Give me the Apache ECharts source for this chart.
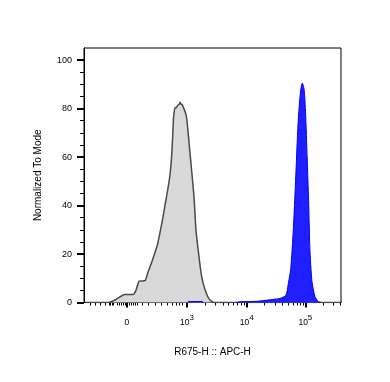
<!DOCTYPE html>
<html><head><meta charset="utf-8">
<script src="https://cdn.jsdelivr.net/npm/echarts@6/dist/echarts.min.js"></script>
<style>html,body{margin:0;padding:0;background:#fff}#c{width:390px;height:382px}</style>
</head><body><div id="c"></div>
<script>
// x values are display channels (0-1024) on a logicle-like scale
var grayChannel = [8, 24, 64, 97, 128, 163, 196, 207, 220, 243, 255, 270, 292, 310, 321, 330, 336, 343, 349, 353, 356, 359, 363, 367, 373, 379, 383, 387, 391, 396, 402, 409, 414, 422, 438, 446, 455, 466, 475, 491, 502, 515, 542, 1020];
var grayCount   = [0, 0, 0, 0, 1.3, 3.3, 3.3, 5, 8.8, 9, 12.5, 16.7, 23.6, 32.6, 39, 44.4, 48, 53, 60, 68, 75, 78.5, 80.5, 80.3, 81.3, 81.8, 82.6, 81.7, 81.8, 80.4, 79, 76.2, 71, 62, 44, 30, 21.6, 12.5, 7.8, 2.9, 1, 0.1, 0, 0];
// null = no events (gap in the blue histogram)
var blueChannel = [412, 416, 470, 476, 540, 606, 622, 688, 741, 781, 805, 814, 824, 834, 843, 853, 863, 870, 877, 883, 889, 895, 900, 908, 920, 932, 944];
var blueCount   = [0, 0.4, 0.4, 0, null, 0, 0.3, 0.5, 1.1, 1.7, 3, 7.8, 14, 30, 50, 74, 87.5, 90.5, 88, 78, 60, 42, 22, 9, 2.5, 0.5, 0];
var majorTicks  = [171, 410, 648, 882];
var majorLabels = ['0', '10|3', '10|4', '10|5'];
var minorTicks  = [24, 44, 64, 84, 100, 106, 112, 118, 132, 140, 147, 155, 163, 179, 187, 195, 203, 211, 231, 255, 283, 307, 331, 351, 367, 379, 391,
                   482, 524, 553, 576, 595, 611, 625, 637,
                   720, 761, 791, 814, 833, 849, 863, 875,
                   952, 994, 1023];
var yTicks = [0, 20, 40, 60, 80, 100];

var font = 'Liberation Sans, Arial, sans-serif';
function pairs(xs, ys){ return xs.map(function(x,i){ return [x, ys[i]]; }); }

var chart = echarts.init(document.getElementById('c'), null, {renderer:'canvas'});
chart.setOption({
  animation: false,
  grid: {left: 84, right: 49, top: 48, bottom: 79.5, show: true, borderColor: '#000', borderWidth: 1, backgroundColor: 'transparent'},
  xAxis: [{
    type: 'value', min: 0, max: 1024, position: 'bottom',
    name: 'R675-H :: APC-H', nameLocation: 'middle', nameGap: 45,
    nameTextStyle: {fontFamily: font, fontSize: 10, color: '#000'},
    axisLine: {show: true, onZero: false, lineStyle: {color: '#000', width: 1}},
    axisTick: {show: true, customValues: majorTicks, length: 5, lineStyle: {color: '#000', width: 2}},
    axisLabel: {
      customValues: majorTicks, margin: 15, color: '#000', fontFamily: font,
      formatter: function(v){
        var i = majorTicks.indexOf(v);
        var s = i >= 0 ? majorLabels[i] : '';
        var p = s.split('|');
        if (p.length === 1) return '{b|' + p[0] + '}';
        return '{b|' + p[0] + '}{s|' + p[1] + '}';
      },
      rich: {
        b: {fontSize: 8.5, fontFamily: font, color: '#000', lineHeight: 10, verticalAlign: 'bottom', padding: [5,0,0,0]},
        s: {fontSize: 8, fontFamily: font, color: '#000', lineHeight: 9, verticalAlign: 'bottom', padding: [0,0,6,0]}
      }
    },
    splitLine: {show: false}
  }, {
    type: 'value', min: 0, max: 1024, position: 'bottom',
    axisLine: {show: false},
    axisTick: {show: true, customValues: minorTicks, length: 3, lineStyle: {color: '#000', width: 1}},
    axisLabel: {show: false},
    splitLine: {show: false}
  }],
  yAxis: {
    type: 'value', min: 0, max: 105, position: 'left',
    name: 'Normalized To Mode', nameLocation: 'middle', nameGap: 41,
    nameTextStyle: {fontFamily: font, fontSize: 10, color: '#000'},
    axisLine: {show: true, lineStyle: {color: '#000', width: 1}},
    axisTick: {show: true, customValues: yTicks, length: 7, lineStyle: {color: '#000', width: 2}},
    minorTick: {show: true, splitNumber: 4, length: 4, lineStyle: {color: '#000', width: 1}},
    axisLabel: {customValues: yTicks, margin: 12, fontFamily: font, fontSize: 9, color: '#000'},
    interval: 20,
    splitLine: {show: false}, minorSplitLine: {show: false}
  },
  series: [{
    type: 'line', xAxisIndex: 0, data: pairs(grayChannel, grayCount), symbol: 'none', smooth: 0.2,
    lineStyle: {color: '#4a4a4a', width: 1.5},
    areaStyle: {color: '#d9d9d9', opacity: 1}, z: 2
  }, {
    type: 'line', xAxisIndex: 0, data: pairs(blueChannel, blueCount), symbol: 'none', smooth: 0.2,
    connectNulls: false,
    lineStyle: {color: '#0000ff', width: 1},
    areaStyle: {color: '#1f1fff', opacity: 1}, z: 3
  }]
});
</script></body></html>
